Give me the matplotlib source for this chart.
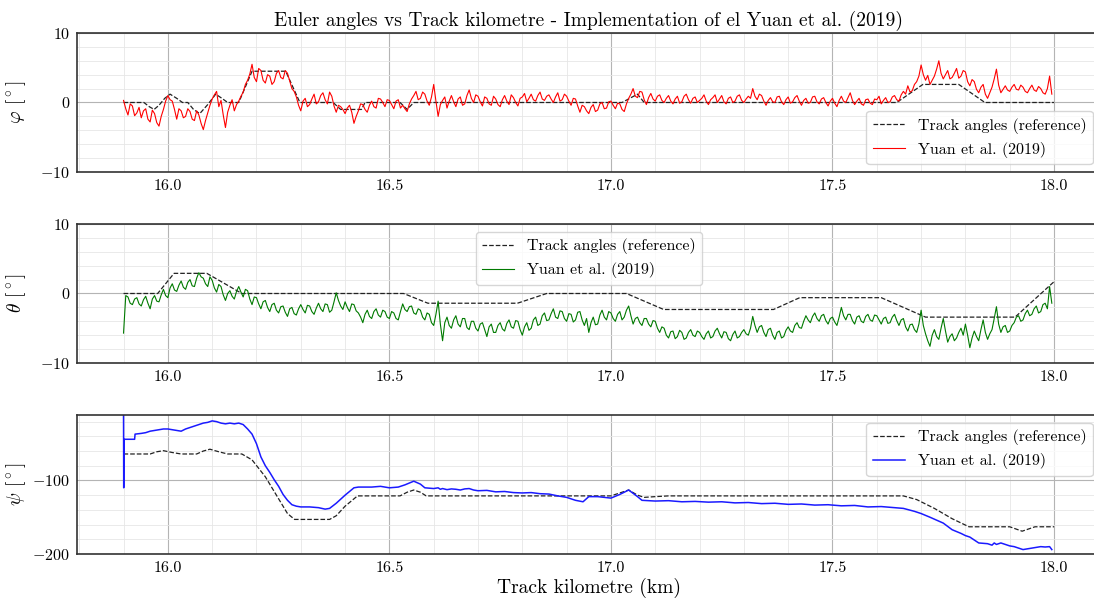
import numpy as np
import matplotlib

matplotlib.use("Agg")
import matplotlib.pyplot as plt
from matplotlib.ticker import MultipleLocator, FormatStrFormatter

plt.rcParams.update({
    "font.family": "serif",
    "font.serif": ["cmr10"],
    "mathtext.fontset": "cm",
    "axes.formatter.use_mathtext": True,
    "axes.unicode_minus": True,
})

# ── track reference angles (piecewise, km -> deg) ─────────────────────────
ref_phi_km = [15.90, 15.946, 15.958, 15.969, 15.98, 15.993, 16.005, 16.02, 16.033, 16.045,
              16.058, 16.072, 16.09, 16.108, 16.122, 16.135, 16.16, 16.19, 16.266, 16.298,
              16.373, 16.39, 16.437, 16.445, 16.524, 16.54, 16.555, 17.025, 17.06, 17.075,
              17.645, 17.704, 17.785, 17.844, 18.00]
ref_phi = [0.0, 0.0, -0.6, -1.0, -0.4, 0.6, 1.2, 0.6, 0.0, 0.0,
           -1.0, -1.6, -0.3, 1.2, 0.6, 0.0, 0.0, 4.5, 4.5, 0.0,
           0.0, -1.0, -1.0, 0.0, 0.0, -1.0, 0.0, 0.0, 1.2, 0.0,
           0.0, 2.6, 2.6, 0.0, 0.0]

ref_theta_km = [15.90, 15.977, 16.014, 16.088, 16.167, 16.532, 16.587, 16.789, 16.855, 17.035,
                17.119, 17.367, 17.426, 17.61, 17.71, 17.912, 18.00]
ref_theta = [0.0, 0.0, 2.9, 2.9, 0.0, 0.0, -1.4, -1.4, 0.0, 0.0,
             -2.3, -2.3, -0.6, -0.6, -3.4, -3.4, 1.7]

ref_psi_km = [15.90, 15.96, 15.975, 15.99, 16.01, 16.03, 16.065, 16.08, 16.095, 16.115,
              16.135, 16.167, 16.19, 16.22, 16.25, 16.27, 16.286, 16.365, 16.38, 16.40,
              16.428, 16.524, 16.54, 16.555, 16.57, 16.583, 17.00, 17.02, 17.04, 17.06,
              17.075, 17.10, 17.13, 17.66, 17.69, 17.73, 17.77, 17.808, 17.90, 17.928,
              17.957, 18.00]
ref_psi = [-64, -64, -61, -59.5, -62, -64, -64, -60, -57.5, -61,
           -64, -64, -72, -95, -125, -145, -153, -153, -148, -135,
           -121, -121, -116, -113, -116, -121, -121, -117, -113, -120,
           -123, -122, -121, -121, -126, -138, -152, -163, -163, -169,
           -163, -163]

# ── Yuan et al. (2019) estimates, one sample every 5 m from 15.900 km ────
yuan_phi = [
    0.3, -0.9, -1.8, -0.2, -0.5, -1.9, -1.5, -0.7, -2.2, -1.2, -0.9, -2.4, -2.8, -1.1, -1.6, -2.9, -3.4, -2.0, -1.0, 0.2,
    1.0, 0.4, 0.2, -1.0, -2.4, -0.9, -1.2, -2.2, -2.0, -0.9, -1.3, -2.4, -2.6, -1.2, -1.8, -3.0, -3.9, -2.6, -1.5, -0.4,
    0.5, 1.1, 1.6, -0.6, 0.3, -1.8, -3.6, -1.4, -0.4, 0.4, -1.2, -0.3, 0.2, 0.9, 1.5, 2.6, 3.2, 4.1, 5.5, 3.6,
    3.0, 4.9, 4.6, 3.2, 2.8, 4.0, 3.8, 2.6, 3.0, 4.2, 4.6, 3.6, 3.4, 4.6, 4.2, 3.1, 2.0, 1.6, 0.8, -0.4,
    -1.2, 0.2, 0.6, -0.6, -0.3, 0.5, 1.2, -0.2, 0.1, 1.0, 1.4, 0.4, -0.2, 1.5, 0.9, -0.5, -1.4, -0.4, -0.6, -1.0,
    -1.6, -0.8, -0.4, -1.4, -3.0, -2.0, -1.2, -0.2, -0.3, -1.0, -1.4, -0.4, 0.2, -0.6, -0.8, 0.6, 0.5, 0.0, -0.6, 0.4,
    0.3, -0.3, -0.9, 0.2, 0.4, -0.8, -0.4, -0.9, -1.3, -0.2, 0.5, 1.0, 1.6, 0.4, 0.6, 1.5, 1.2, 0.2, -0.4, 0.8,
    2.6, 0.2, -2.0, -0.3, 0.3, 0.8, -0.8, 0.2, 1.0, 0.1, -0.6, 0.5, 0.8, -0.4, -0.2, 1.0, 1.8, 0.6, 0.0, 1.1,
    0.9, 0.1, -0.5, 0.8, 0.6, -0.2, -0.4, 0.9, 0.5, -0.3, -0.6, 0.4, 1.0, 0.2, -0.3, 1.1, 0.7, 0.0, -0.5, 0.6,
    0.8, 1.3, 0.1, 0.6, 1.2, 0.4, 0.2, 1.0, 1.5, 0.5, 0.3, 0.9, 1.1, 0.5, 0.0, 0.8, 1.4, 0.2, 0.4, 1.2,
    0.9, 0.2, -0.4, 0.6, 0.5, -0.5, -1.4, -0.4, -0.6, -1.2, -1.6, -0.7, -0.3, -1.3, -1.1, -0.2, 0.0, -0.9, -0.8, 0.1,
    0.2, -0.4, -0.9, -0.1, -0.2, -1.0, -1.3, -0.2, 0.6, 1.2, 2.0, 0.9, 0.7, 1.6, 1.5, 0.4, -0.3, 0.7, 1.3, 0.5,
    0.2, 0.9, 1.1, 0.3, 0.0, 0.6, 1.0, 0.2, -0.2, 0.5, 0.9, -0.1, 0.1, 0.9, 1.2, 0.4, -0.1, 0.6, 0.8, 0.0,
    0.3, 0.6, 1.1, 0.2, -0.3, 0.4, 0.7, 1.1, 0.0, 0.5, 1.0, 0.1, -0.2, 0.6, 0.8, 0.0, 0.2, 0.9, 1.1, 0.3,
    0.0, 0.5, 0.9, 0.6, 2.0, 0.9, 0.4, 1.2, 1.0, 0.2, -0.4, 0.3, 0.7, 0.1, 0.0, 0.8, 0.9, 0.1, -0.3, 0.4,
    0.8, -0.1, 0.1, 0.7, 1.0, 0.2, -0.4, 0.3, 0.6, -0.1, 0.0, 0.8, 0.9, 0.1, -0.2, 0.5, 0.7, 0.0, -0.5, 0.2,
    0.6, -0.1, -0.6, 0.3, 0.9, 0.2, 0.0, 0.7, 1.4, 0.3, -0.3, 0.2, 0.6, -0.2, -0.4, 0.4, 0.5, -0.1, -0.3, 0.5,
    0.4, 0.9, -0.2, 0.3, 0.7, 0.0, 0.1, 0.8, 1.0, 0.4, 0.2, 1.1, 1.6, 1.2, 2.4, 1.5, 1.7, 2.6, 3.0, 3.8,
    5.4, 4.0, 3.2, 3.9, 2.6, 3.2, 3.8, 4.8, 6.0, 4.2, 3.4, 4.0, 4.6, 3.4, 3.6, 4.2, 4.9, 3.5, 3.8, 4.6,
    4.4, 3.0, 2.4, 3.3, 3.0, 1.9, 1.4, 2.2, 2.6, 1.2, 0.6, 1.4, 2.2, 3.4, 4.8, 2.5, 1.4, 1.9, 2.4, 1.8,
    1.6, 2.2, 2.6, 1.9, 1.8, 2.5, 2.2, 1.6, 1.4, 2.0, 2.5, 1.8, 1.6, 2.3, 2.0, 1.4, 1.2, 2.0, 3.8, 1.2,
]

yuan_theta = [
    -5.7, -0.3, -0.5, -1.4, -1.6, -0.8, -0.6, -1.5, -1.8, -0.9, -0.4, -1.4, -2.2, -0.8, -0.3, -1.1, -1.2, -0.2, 0.6, -0.3,
    -0.6, 0.8, 1.4, 0.5, 0.3, 1.2, 1.8, 0.9, 0.6, 1.6, 2.0, 1.1, 1.0, 2.2, 3.0, 2.4, 2.2, 1.4, 1.0, 2.4,
    1.9, 0.8, 0.2, 1.3, 1.0, -0.2, -1.0, 0.0, 0.4, -0.4, -0.8, 0.3, 1.0, 0.2, -0.5, 0.6, 0.4, -0.8, -1.6, -0.5,
    -0.6, -1.5, -2.2, -1.2, -1.0, -2.0, -2.6, -1.6, -1.4, -2.4, -2.8, -1.9, -1.8, -2.7, -3.3, -2.2, -2.0, -2.9, -3.1, -2.2,
    -1.6, -2.3, -2.8, -1.7, -1.8, -2.6, -3.0, -2.1, -1.4, -2.2, -2.6, -1.5, -1.6, -2.7, -2.4, -1.2, 0.1, -1.0, -1.8, -2.3,
    -1.2, -2.0, -2.6, -1.5, -1.6, -2.5, -2.8, -3.4, -4.2, -3.0, -2.4, -3.3, -3.6, -2.6, -2.2, -3.1, -3.4, -2.4, -2.6, -3.4,
    -3.6, -2.6, -2.8, -3.6, -3.8, -2.6, -1.5, -2.3, -2.6, -1.9, -1.8, -2.8, -3.0, -2.2, -2.4, -3.4, -3.8, -2.8, -3.0, -4.2,
    -4.6, -3.0, -1.1, -4.4, -6.8, -4.2, -3.4, -4.6, -5.0, -3.8, -3.2, -4.4, -4.8, -3.6, -3.6, -4.9, -5.2, -4.0, -4.0, -5.0,
    -5.4, -4.4, -4.2, -5.2, -6.2, -4.8, -4.4, -5.6, -5.6, -4.6, -4.2, -5.1, -5.4, -4.3, -3.8, -4.8, -5.0, -3.9, -4.0, -5.2,
    -6.0, -4.8, -4.2, -5.3, -5.0, -3.8, -3.4, -4.6, -4.4, -3.2, -2.8, -3.9, -3.8, -2.9, -2.2, -3.4, -3.6, -2.5, -2.6, -3.6,
    -4.0, -2.9, -3.0, -4.1, -3.8, -2.7, -2.6, -3.8, -4.6, -3.6, -5.6, -4.2, -3.4, -4.5, -4.4, -3.1, -2.4, -3.4, -3.8, -2.6,
    -2.8, -3.6, -4.0, -3.0, -2.6, -3.8, -3.4, -2.4, -1.8, -3.2, -4.4, -3.6, -3.4, -4.2, -4.6, -3.6, -3.6, -4.4, -4.8, -3.9,
    -4.0, -5.0, -5.6, -4.8, -5.0, -6.0, -6.4, -5.5, -5.4, -6.5, -6.2, -5.3, -5.6, -6.6, -6.4, -5.6, -5.2, -6.0, -6.2, -5.4,
    -5.6, -6.2, -6.6, -5.8, -5.4, -6.4, -6.2, -5.4, -5.0, -5.8, -6.4, -5.5, -5.6, -6.5, -6.8, -5.9, -5.4, -6.4, -6.2, -5.6,
    -5.2, -5.8, -6.0, -5.0, -3.3, -4.6, -5.6, -4.8, -4.6, -5.6, -6.2, -5.2, -5.0, -6.0, -6.6, -5.6, -5.4, -6.4, -6.2, -5.3,
    -4.8, -5.4, -5.6, -4.6, -4.2, -4.9, -5.0, -4.0, -3.2, -3.8, -4.2, -3.3, -2.8, -3.6, -4.0, -3.2, -3.0, -3.9, -4.4, -3.6,
    -3.4, -4.1, -4.6, -3.4, -2.0, -3.2, -3.8, -3.0, -3.0, -3.9, -4.4, -3.4, -3.2, -4.0, -4.2, -3.3, -3.0, -3.8, -4.0, -3.1,
    -3.2, -3.8, -4.4, -3.6, -3.4, -4.3, -4.2, -3.4, -3.0, -3.9, -4.6, -3.8, -3.6, -4.8, -5.4, -4.5, -4.4, -5.2, -5.6, -4.4,
    -2.4, -4.6, -5.8, -6.8, -7.6, -6.0, -5.2, -6.2, -6.6, -5.0, -3.6, -5.4, -7.0, -6.2, -5.8, -6.8, -6.4, -5.6, -5.0, -6.0,
    -4.4, -6.0, -7.8, -6.4, -5.4, -6.2, -6.8, -5.2, -3.8, -5.6, -6.6, -5.8, -5.2, -3.6, -1.9, -4.4, -5.6, -4.8, -4.6, -5.6,
    -5.4, -4.6, -4.2, -3.4, -3.2, -4.0, -3.8, -2.9, -2.4, -3.2, -3.0, -2.2, -1.8, -2.8, -2.6, -1.6, -1.4, -2.2, 1.0, -1.4,
]

yuan_psi_km = [15.900, 15.9004, 15.9008, 15.925, 15.926, 15.94, 15.95, 15.96, 15.97, 15.98,
               15.99, 16.00, 16.01, 16.02, 16.03, 16.04, 16.05, 16.06, 16.07, 16.08,
               16.09, 16.10, 16.11, 16.12, 16.13, 16.14, 16.15, 16.16, 16.17, 16.18,
               16.19, 16.20, 16.21, 16.22, 16.23, 16.24, 16.25, 16.26, 16.27, 16.28,
               16.29, 16.30, 16.32, 16.34, 16.355, 16.365, 16.38, 16.40, 16.42, 16.43,
               16.46, 16.48, 16.50, 16.52, 16.535, 16.555, 16.57, 16.58, 16.60, 16.61,
               16.615, 16.62, 16.63, 16.64, 16.65, 16.66, 16.67, 16.68, 16.69, 16.70,
               16.72, 16.74, 16.76, 16.78, 16.80, 16.82, 16.84, 16.86, 16.88, 16.90,
               16.92, 16.937, 16.95, 16.97, 17.00, 17.02, 17.04, 17.06, 17.07, 17.10,
               17.13, 17.16, 17.19, 17.22, 17.25, 17.28, 17.31, 17.34, 17.37, 17.40,
               17.43, 17.46, 17.49, 17.52, 17.55, 17.58, 17.61, 17.64, 17.66, 17.685,
               17.70, 17.72, 17.75, 17.77, 17.79, 17.80, 17.81, 17.82, 17.83, 17.84,
               17.85, 17.86, 17.865, 17.87, 17.88, 17.89, 17.90, 17.91, 17.92, 17.93,
               17.94, 17.95, 17.96, 17.97, 17.98, 17.99, 17.995]
yuan_psi = [-11, -110, -44, -44, -37, -36, -35, -33, -32, -31,
            -30, -30, -31, -32, -33, -30, -28, -26, -24, -22,
            -21, -19, -20, -22, -23, -22, -23, -22, -24, -30,
            -37, -50, -68, -80, -89, -99, -108, -119, -127, -133,
            -135, -136, -136, -137, -139, -138, -131, -120, -110, -109,
            -109, -108, -110, -109, -106, -101, -105, -110, -111, -110,
            -112, -111, -112.5, -111.5, -112, -113, -111.5, -111, -113, -114,
            -113.5, -115.5, -115, -116.5, -117, -116.5, -118, -118.5, -121, -123,
            -127, -129, -122, -122, -124, -119, -113, -122, -127, -128,
            -127.5, -129, -128.5, -129.5, -129, -130.5, -130, -131.5, -131, -132.5,
            -132, -133.5, -133, -134.5, -134, -136, -135.5, -137, -138, -142,
            -145, -150, -158, -167, -172, -175, -177, -181, -185, -185.5,
            -186, -188, -185, -187, -185, -187, -189, -190, -192, -194,
            -193, -192, -191, -190, -190.5, -190, -194]

km = np.linspace(15.900, 17.995, len(yuan_phi))

REF_STYLE = dict(color="#222222", linestyle="--", linewidth=0.9,
                 label="Track angles (reference)")

fig = plt.figure(figsize=(10.94, 5.98), dpi=100)
left, width = 0.0704, 0.9356
ax1 = fig.add_axes([left, 0.7124, width, 0.2324])
ax2 = fig.add_axes([left, 0.3930, width, 0.2324])
ax3 = fig.add_axes([left, 0.0736, width, 0.2324])

ax1.plot(ref_phi_km, ref_phi, **REF_STYLE)
ax1.plot(km, yuan_phi, color="#ff0000", linewidth=0.8, label="Yuan et al. (2019)")
ax1.set_ylim(-10, 10)
ax1.set_ylabel(r"$\varphi$ [$^\circ$]", fontsize=14)
ax1.legend(loc="lower right", fontsize=11.5)

ax2.plot(ref_theta_km, ref_theta, **REF_STYLE)
ax2.plot(km, yuan_theta, color="#007a00", linewidth=0.8, label="Yuan et al. (2019)")
ax2.set_ylim(-10, 10)
ax2.set_ylabel(r"$\theta$ [$^\circ$]", fontsize=14)
ax2.legend(loc="upper center", fontsize=11.5)

ax3.plot(ref_psi_km, ref_psi, **REF_STYLE)
ax3.plot(yuan_psi_km, yuan_psi, color="#1a1aff", linewidth=1.1, label="Yuan et al. (2019)")
ax3.set_ylim(-200, -11)
ax3.set_ylabel(r"$\psi$ [$^\circ$]", fontsize=14)
ax3.legend(loc="upper right", fontsize=11.5)
ax3.set_xlabel("Track kilometre (km)", fontsize=14, labelpad=2)

ax1.set_title("Euler angles vs Track kilometre - Implementation of el Yuan et al. (2019)",
              fontsize=14, pad=5)

for ax, ymaj, ymin in ((ax1, 10, 2), (ax2, 10, 2), (ax3, 100, 20)):
    ax.set_xlim(15.795, 18.105)
    ax.xaxis.set_major_locator(MultipleLocator(0.5))
    ax.xaxis.set_minor_locator(MultipleLocator(0.1))
    ax.yaxis.set_major_locator(MultipleLocator(ymaj))
    ax.yaxis.set_minor_locator(MultipleLocator(ymin))
    ax.xaxis.set_major_formatter(FormatStrFormatter("%.1f"))
    ax.grid(which="major", color="#b4b4b4", linewidth=0.8)
    ax.grid(which="minor", color="#e6e6e6", linewidth=0.6)
    ax.set_axisbelow(True)
    ax.tick_params(which="both", direction="in", length=0, labelsize=11.5, pad=5)
    for sp in ax.spines.values():
        sp.set_color("#333333")
        sp.set_linewidth(1.2)
    ax.yaxis.set_label_coords(-0.048, 0.5)

fig.savefig("out.png", dpi=100)
